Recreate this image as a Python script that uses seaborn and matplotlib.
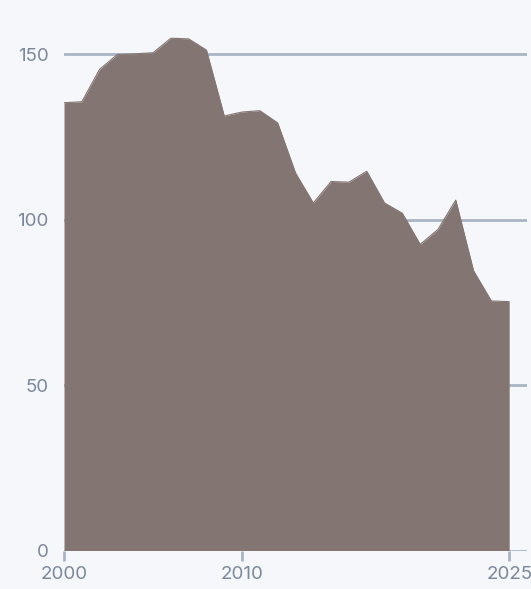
import numpy as np
import matplotlib
matplotlib.use("Agg")
import matplotlib.pyplot as plt
import pandas as pd
import seaborn as sns

# values
years = list(range(2000, 2026))
values = [135.3, 135.6, 145.4, 149.9, 150.1, 150.4, 154.8, 154.6, 151.2, 131.3,
          132.5, 132.9, 129.2, 114.1, 105.0, 111.5, 111.3, 114.6, 105.0, 101.9,
          92.5, 97.0, 105.9, 84.5, 75.4, 75.2]
y_ticks = [0, 50, 100, 150]
x_ticks = [2000, 2010, 2025]

BG = "#f5f7fb"
AREA = "#837571"
GRID = "#a9b4c4"
TEXT = "#7b879b"

df = pd.DataFrame({"year": years, "value": values})

sns.set_theme(style="white")
plt.rcParams['font.family'] = ['Inter', 'DejaVu Sans']

fig = plt.figure(figsize=(5.31, 5.89), dpi=100, facecolor=BG)
ax = fig.add_axes([64 / 531, 38.5 / 589, (527 - 64) / 531, (550.5 - 21) / 589])
ax.set_facecolor(BG)

for t in y_ticks:
    ax.axhline(t, color=GRID, lw=2, zorder=1)

ax.fill_between(df["year"], df["value"], 0, color=AREA, lw=0, zorder=2)
sns.lineplot(data=df, x="year", y="value", ax=ax, color=AREA, lw=0.8, zorder=3)

ax.set_xlim(2000, 2026)
ax.set_ylim(0, 160)
ax.set_xticks(x_ticks)
ax.set_yticks(y_ticks)
ax.set_xlabel("")
ax.set_ylabel("")
for s in ax.spines.values():
    s.set_visible(False)
ax.tick_params(axis="x", bottom=True, length=7, width=2, color=GRID,
               labelcolor=TEXT, labelsize=13.5, pad=4)
ax.tick_params(axis="y", left=False, length=0, labelcolor=TEXT, labelsize=13.5, pad=11)

fig.savefig("out.png", dpi=100, facecolor=BG)
